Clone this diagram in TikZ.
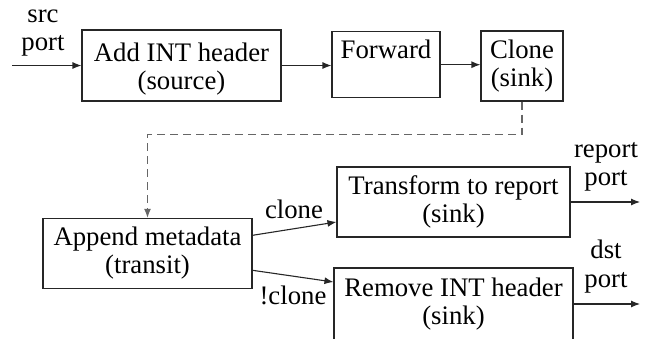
\documentclass[tikz,border=0pt]{standalone}
\usepackage{fontspec}
\setmainfont{Liberation Serif}
\usetikzlibrary{arrows.meta,calc}
\begin{document}
\begin{tikzpicture}[x=1pt,y=-1pt,
  every node/.style={font=\fontsize{26.75}{28}\selectfont},
  box/.style={draw=black!85, line width=1.1pt, inner sep=0pt, align=center},
  conn/.style={draw=black!85, line width=1.1pt, -{Latex[length=9pt,width=7pt]}},
  dashconn/.style={draw=black!60, line width=1.1pt, dash pattern=on 8pt off 5pt, -{Latex[length=9pt,width=7pt]}},
  lbl/.style={inner sep=0pt, anchor=base}]
\useasboundingbox (0,0) rectangle (649,338);
\node[box, minimum width=199pt, minimum height=71pt] (add) at (181.5,65.5) {\rule{0pt}{25pt}Add INT header\\(source)};
\node[box, minimum width=108pt, minimum height=66pt] (fwd) at (386,64.7) {Forward\\[2pt]~};
\node[box, minimum width=82pt, minimum height=70pt] (clone) at (522,66) {Clone\\(sink)};
\node[box, minimum width=209pt, minimum height=70pt] (append) at (147.5,253.3) {Append metadata\\(transit)};
\node[box, minimum width=233pt, minimum height=70pt] (transform) at (453.5,202) {Transform to report\\(sink)};
\node[box, minimum width=239pt, minimum height=72pt] (remove) at (453.5,304) {Remove INT header\\(sink)};
% labels
\node[lbl] (srcA) at (43,22) {src};
\node[lbl] (srcB) at (43,50) {port};
\node[lbl] (repA) at (606,157) {report};
\node[lbl] (repB) at (606,185) {port};
\node[lbl] (dstA) at (606,258) {dst};
\node[lbl] (dstB) at (606,287) {port};
\node[lbl] (lclone) at (294,218) {clone};
\node[lbl] (lnclone) at (293,304) {!clone};
% connectors
\coordinate (in) at (12,65.5);
\coordinate (outR) at (640,202);
\coordinate (outD) at (640,304);
\draw[conn] (in) -- (in -| add.west);
\draw[conn] (add.east) -- (add.east -| fwd.west);
\draw[conn] (fwd.east) -- (fwd.east -| clone.west);
\draw[dashconn] (clone.south) -- ++(0,33) -| (append.north);
\draw[conn] ([yshift=18pt]append.east) -- ([yshift=-20pt]transform.west);
\draw[conn] ([yshift=-17pt]append.east) -- ([yshift=22pt]remove.west);
\draw[conn] (transform.east) -- (outR);
\draw[conn] (remove.east) -- (outD);
\end{tikzpicture}
\end{document}
